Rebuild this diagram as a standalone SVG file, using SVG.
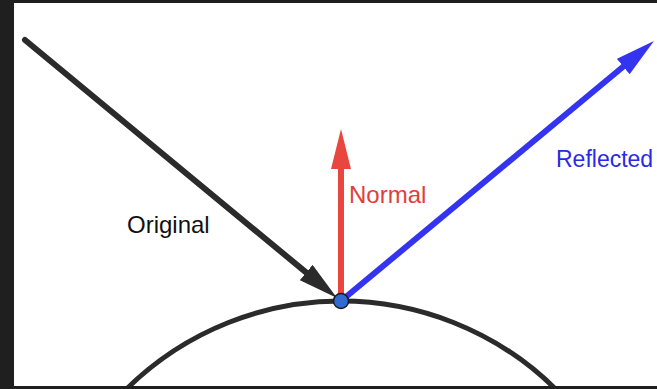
<svg xmlns="http://www.w3.org/2000/svg" width="657" height="389" viewBox="0 0 657 389">
  <style>
    .lbl { font-family: "Liberation Sans", Arial, sans-serif; font-size: 24px; }
    .lbl.small { font-size: 23px; }
    .frame { fill: #1f1f1f; }
  </style>
  <defs>
    <marker id="headDark" markerUnits="userSpaceOnUse" markerWidth="40" markerHeight="20" refX="10" refY="10" orient="auto" viewBox="0 0 40 20">
      <path d="M0,0 L40,10 L0,20 z" fill="#2b2b2b"/>
    </marker>
    <marker id="headRed" markerUnits="userSpaceOnUse" markerWidth="40" markerHeight="20" refX="10" refY="10" orient="auto" viewBox="0 0 40 20">
      <path d="M0,0 L40,10 L0,20 z" fill="#e8463f"/>
    </marker>
    <marker id="headBlue" markerUnits="userSpaceOnUse" markerWidth="40" markerHeight="20" refX="10" refY="10" orient="auto" viewBox="0 0 40 20">
      <path d="M0,0 L40,10 L0,20 z" fill="#3434f0"/>
    </marker>
  </defs>
  <rect x="0" y="0" width="657" height="389" fill="#ffffff"/>
  <g id="surface">
    <circle cx="341" cy="606.5" r="305.5" fill="none" stroke="#2b2b2b" stroke-width="5"/>
  </g>
  <g id="connectors">
    <line x1="25" y1="40" x2="313.9" y2="278.9" stroke="#2b2b2b" stroke-width="6" stroke-linecap="round" marker-end="url(#headDark)"/>
    <line x1="341" y1="301" x2="341" y2="159" stroke="#e8463f" stroke-width="6" marker-end="url(#headRed)"/>
    <line x1="341" y1="301" x2="630.9" y2="60.2" stroke="#3434f0" stroke-width="6" marker-end="url(#headBlue)"/>
  </g>
  <g id="point">
    <circle cx="341" cy="301" r="7.5" fill="#2f6bd0" stroke="#1a1a1a" stroke-width="1.5"/>
  </g>
  <g id="labels">
    <text class="lbl" x="127" y="233" fill="#111111">Original</text>
    <text class="lbl" x="349" y="203" fill="#e0403a">Normal</text>
    <text class="lbl small" x="556" y="166.5" fill="#2a2ae6">Reflected</text>
  </g>
  <g id="frame">
    <rect class="frame" x="0" y="0" width="657" height="3"/>
    <rect class="frame" x="0" y="0" width="14" height="389"/>
    <rect class="frame" x="0" y="386" width="657" height="3"/>
  </g>
</svg>
